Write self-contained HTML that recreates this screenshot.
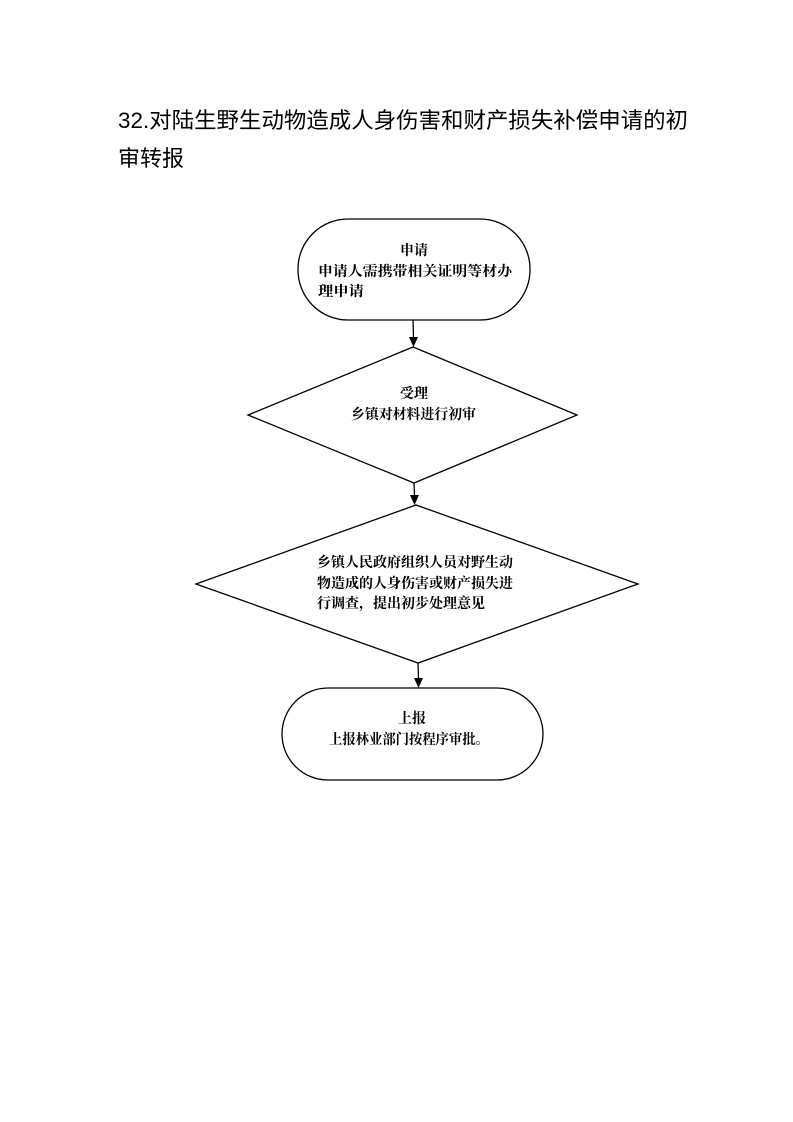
<!DOCTYPE html>
<html><head><meta charset="utf-8"><style>
html,body{margin:0;padding:0;background:#fff;}
svg{display:block;}
.t{font-family:"Liberation Sans","Noto Sans CJK SC",sans-serif;font-size:22px;fill:#000;}
.b{font-family:"Liberation Serif","Noto Serif CJK SC",serif;font-size:14px;font-weight:bold;fill:#000;}
</style></head><body>
<svg width="793" height="1122" viewBox="0 0 793 1122" xmlns="http://www.w3.org/2000/svg">
<text class="t" x="118" y="128" textLength="570" lengthAdjust="spacingAndGlyphs">32.对陆生野生动物造成人身伤害和财产损失补偿申请的初</text>
<text class="t" x="118" y="166" textLength="66" lengthAdjust="spacingAndGlyphs">审转报</text>
<g fill="none" stroke="#000" stroke-width="1.3">
<rect x="298" y="219" width="232" height="101" rx="50" ry="50"/>
<polygon points="413,347 577,415 414,483 248,415"/>
<polygon points="416,505 638,584 418,663 196,584"/>
<rect x="282" y="688" width="261" height="92" rx="46" ry="46"/>
<line x1="413" y1="320" x2="413.5" y2="338"/>
<line x1="414" y1="483" x2="414.5" y2="496"/>
<line x1="418" y1="663" x2="418.5" y2="679"/>
</g>
<g fill="#000">
<path d="M409,337 L418,337 L413.5,347 Z"/>
<path d="M410,495 L419,495 L414.5,505 Z"/>
<path d="M414,678 L423,678 L418.5,688 Z"/>
</g>
<text class="b" x="414" y="255" text-anchor="middle">申请</text>
<text class="b" x="318" y="276" textLength="194" lengthAdjust="spacingAndGlyphs">申请人需携带相关证明等材办</text>
<text class="b" x="318" y="296" textLength="46" lengthAdjust="spacingAndGlyphs">理申请</text>
<text class="b" x="414" y="398" text-anchor="middle">受理</text>
<text class="b" x="351" y="419" textLength="125" lengthAdjust="spacingAndGlyphs">乡镇对材料进行初审</text>
<text class="b" x="317" y="567" textLength="196" lengthAdjust="spacingAndGlyphs">乡镇人民政府组织人员对野生动</text>
<text class="b" x="317" y="588" textLength="196" lengthAdjust="spacingAndGlyphs">物造成的人身伤害或财产损失进</text>
<text class="b" x="317" y="608" textLength="168" lengthAdjust="spacingAndGlyphs">行调查，提出初步处理意见</text>
<text class="b" x="412" y="723" text-anchor="middle">上报</text>
<text class="b" x="329" y="744" textLength="160" lengthAdjust="spacingAndGlyphs">上报林业部门按程序审批。</text>
</svg>
</body></html>
